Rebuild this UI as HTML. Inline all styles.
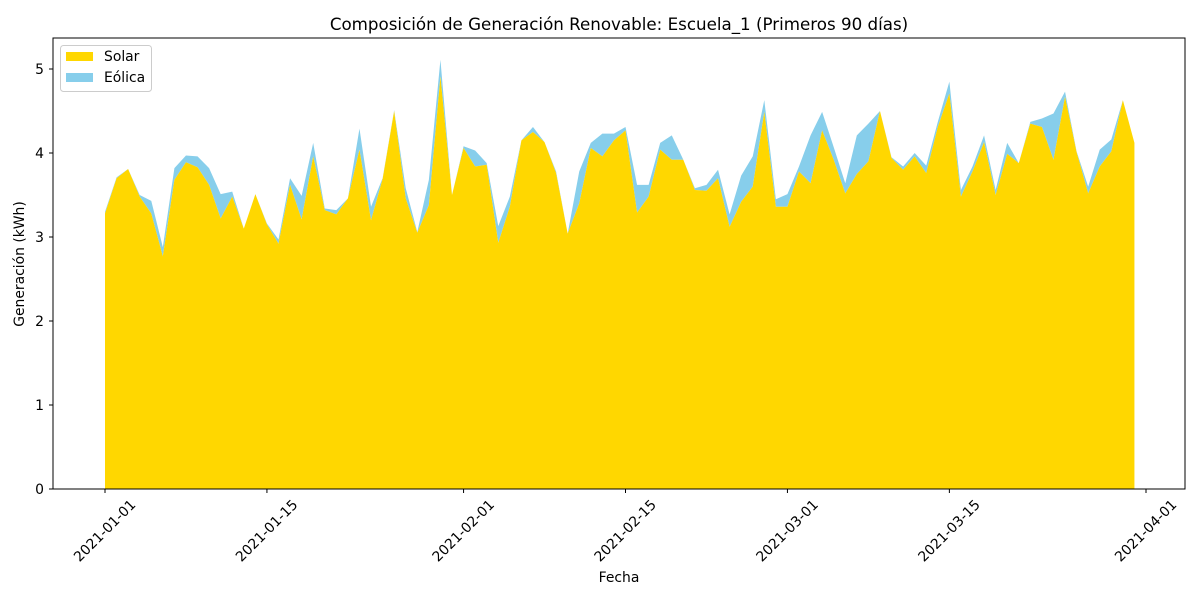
<!DOCTYPE html>
<html><head><meta charset="utf-8">
<style>
body{margin:0;background:#fff;}
svg{display:block;font-family:"DejaVu Sans","Liberation Sans",sans-serif;}
</style></head>
<body>
<svg id="chart" width="1200" height="600" viewBox="0 0 1200 600">
<text x="619" y="30" text-anchor="middle" font-size="16.7">Composición de Generación Renovable: Escuela_1 (Primeros 90 días)</text>
<g id="areas"></g>
<rect x="53" y="38" width="1132" height="451" fill="none" stroke="#000" stroke-width="1"/>
<g id="yaxis"></g>
<g id="xaxis"></g>
<text x="0" y="0" transform="translate(24,264) rotate(-90)" text-anchor="middle" font-size="13.9">Generación (kWh)</text>
<text x="619" y="582" text-anchor="middle" font-size="13.9">Fecha</text>
<g>
<rect x="60.5" y="45.5" width="91" height="46" rx="3" fill="#fff" stroke="#ccc"/>
<rect x="66" y="52" width="27" height="9" fill="#FFD700"/>
<text x="104" y="61" font-size="13.9">Solar</text>
<rect x="66" y="73" width="27" height="9" fill="#87CEEB"/>
<text x="104" y="82" font-size="13.9">Eólica</text>
</g>
</svg>
<script>
const solar = [3.28,3.70,3.81,3.48,3.28,2.77,3.68,3.89,3.83,3.62,3.22,3.48,3.10,3.51,3.15,2.92,3.62,3.21,3.96,3.32,3.27,3.46,4.04,3.20,3.69,4.50,3.46,3.05,3.38,4.91,3.50,4.06,3.84,3.86,2.93,3.36,4.15,4.25,4.13,3.76,3.04,3.40,4.06,3.96,4.15,4.27,3.29,3.48,4.04,3.92,3.92,3.56,3.55,3.70,3.12,3.42,3.60,4.49,3.36,3.36,3.78,3.64,4.27,3.92,3.52,3.75,3.90,4.50,3.94,3.80,3.96,3.76,4.31,4.71,3.48,3.78,4.13,3.50,3.99,3.88,4.35,4.31,3.92,4.67,4.01,3.52,3.84,4.02,4.63,4.12];
const wind = [0.02,0.01,0.00,0.02,0.15,0.11,0.14,0.08,0.13,0.20,0.29,0.06,0.00,0.00,0.01,0.05,0.08,0.28,0.16,0.02,0.05,0.00,0.25,0.16,0.01,0.01,0.12,0.01,0.30,0.20,0.00,0.02,0.19,0.02,0.20,0.12,0.00,0.06,0.00,0.02,0.00,0.38,0.06,0.27,0.08,0.04,0.33,0.14,0.08,0.29,0.00,0.02,0.07,0.10,0.15,0.31,0.36,0.14,0.09,0.15,0.06,0.57,0.22,0.15,0.12,0.46,0.45,0.00,0.01,0.04,0.04,0.09,0.06,0.14,0.08,0.06,0.08,0.06,0.13,0.00,0.02,0.10,0.55,0.06,0.01,0.08,0.20,0.14,0.00,0.00];
const yTicks = [0,1,2,3,4,5];
const xTickDays = [0,14,31,45,59,73,90];
const xTickLabels = ["2021-01-01","2021-01-15","2021-02-01","2021-02-15","2021-03-01","2021-03-15","2021-04-01"];

const NS="http://www.w3.org/2000/svg";
const xs = i => 105 + i*(1146-105)/90;
const ys = v => 489 - v*84;
function mk(tag, attrs, parent){const e=document.createElementNS(NS,tag);for(const k in attrs)e.setAttribute(k,attrs[k]);parent.appendChild(e);return e;}

const areas=document.getElementById('areas');
const n=solar.length;
const totals=solar.map((s,i)=>s+wind[i]);
let pw="", ps="";
for(let i=0;i<n;i++){pw+=(i?"L":"M")+xs(i).toFixed(2)+","+ys(totals[i]).toFixed(2);}
for(let i=n-1;i>=0;i--){pw+="L"+xs(i).toFixed(2)+","+ys(solar[i]).toFixed(2);}
pw+="Z";
for(let i=0;i<n;i++){ps+=(i?"L":"M")+xs(i).toFixed(2)+","+ys(solar[i]).toFixed(2);}
ps+="L"+xs(n-1).toFixed(2)+","+ys(0)+"L"+xs(0).toFixed(2)+","+ys(0)+"Z";
const aw=mk('path',{d:pw,fill:'#87CEEB'},areas);


const as=mk('path',{d:ps,fill:'#FFD700'},areas);



const ya=document.getElementById('yaxis');
yTicks.forEach(t=>{
  const y=ys(t);
  const l=mk('line',{x1:49,x2:53,y1:y,y2:y,stroke:'#000'},ya);
  
  
  const tx=mk('text',{x:44,y:y+5,'text-anchor':'end','font-size':'13.9'},ya);
  tx.textContent=t;
  
  
});
const xa=document.getElementById('xaxis');
xTickDays.forEach((d,k)=>{
  const x=xs(d);
  const l=mk('line',{x1:x,x2:x,y1:489,y2:493,stroke:'#000'},xa);
  
  
  const tx=mk('text',{x:0,y:0,'text-anchor':'middle','font-size':'13.9',transform:`translate(${x+3},${534}) rotate(-45)`},xa);
  tx.textContent=xTickLabels[k];
  
  
});
</script>
</body></html>
